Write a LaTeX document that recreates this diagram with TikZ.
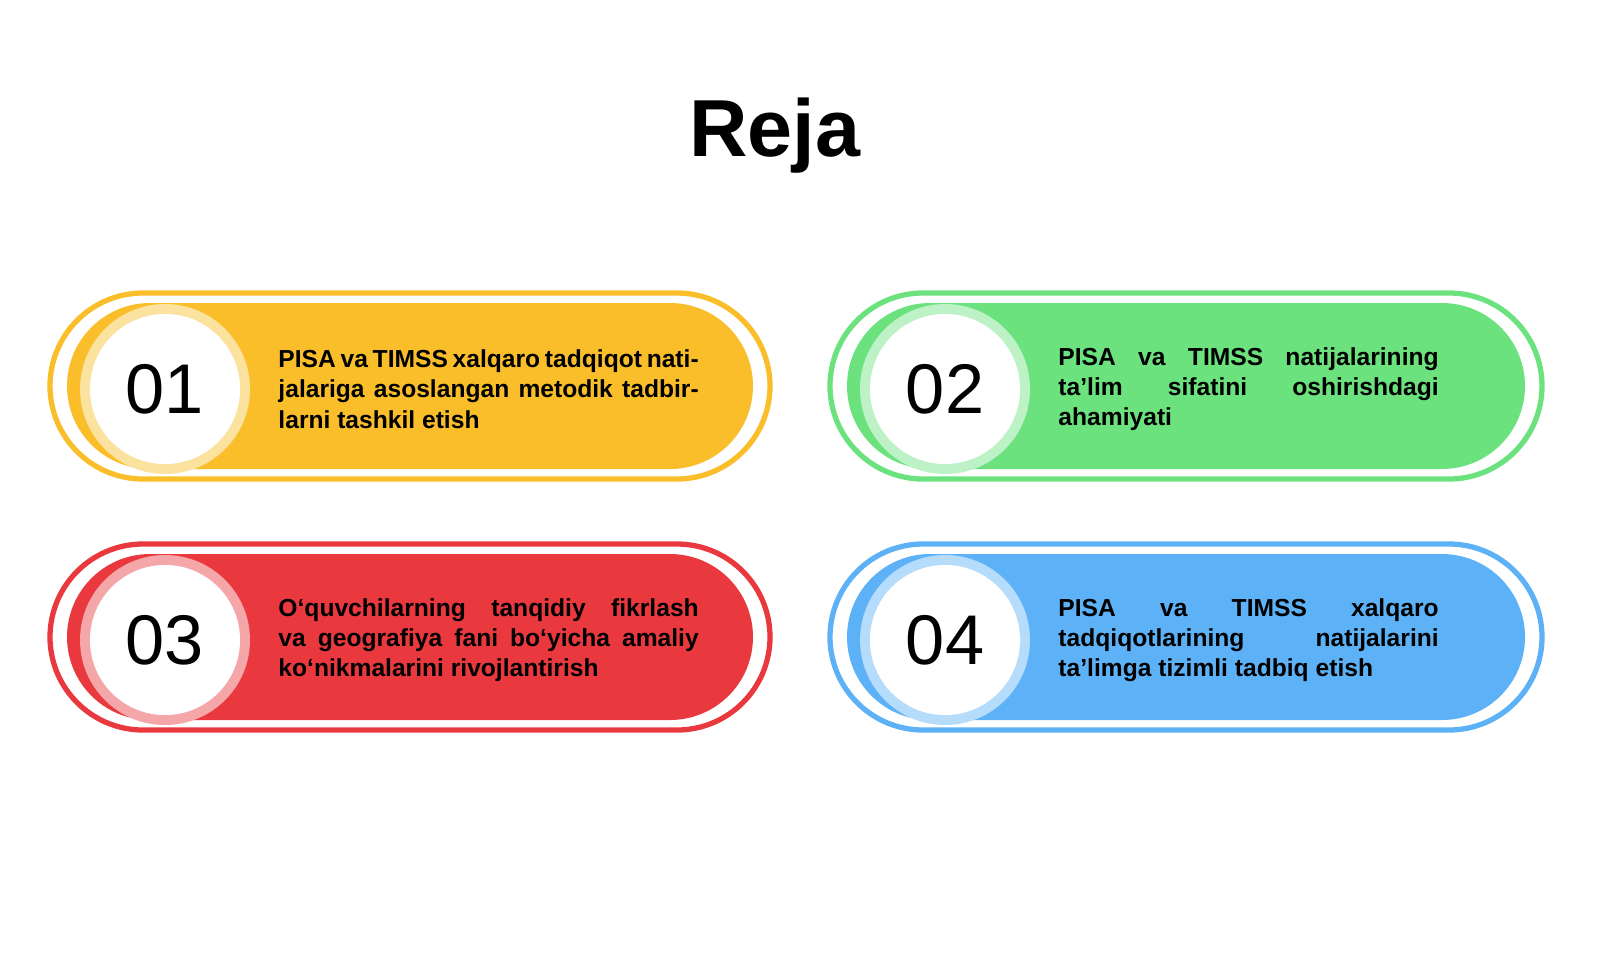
\documentclass[tikz,border=0pt]{standalone}
\usepackage{fontspec}
\setmainfont{Liberation Sans}
\usetikzlibrary{positioning}
\definecolor{cyel}{HTML}{F9BE2A}
\definecolor{cgrn}{HTML}{6BE27E}
\definecolor{cred}{HTML}{E9393F}
\definecolor{cblu}{HTML}{5DB1F6}
\newcommand{\rejapill}[7]{%
  % #1 x, #2 y, #3 colour, #4 width, #5 number, #6 text width, #7 text
  \draw[#3, line width=1.5pt, rounded corners=0.93cm] (#1,#2-93) rectangle ++(#4,186);
  \fill[#3, rounded corners=0.83cm] (#1+17,#2-83) rectangle ++(#4-34,166);
  \fill[#3!45!white] (#1+115,#2+3) circle (85);
  \node[circle, fill=white, minimum size=1.5cm, font=\fontsize{20}{24}\selectfont] (n#5) at (#1+115,#2+3) {#5};
  \node[right=0.37cm of n#5, text width=#6, align=justify, font=\bfseries\fontsize{7}{8.6}\selectfont, inner sep=0pt] (t#5) {\hyphenpenalty=10000 #7};
}
\begin{document}
\begin{tikzpicture}[x=0.01cm, y=-0.01cm]
  \useasboundingbox (0,0) rectangle (1600,960);
  \node[font=\bfseries\fontsize{23}{27}\selectfont] (title) at (775,136) {Reja};
  \rejapill{50}{386}{cyel}{720}{01}{4.2cm}{PISA va TIMSS xalqaro tadqiqot natijalariga asoslangan metodik tadbirlarni tashkil etish}
  \rejapill{830}{386}{cgrn}{712}{02}{3.8cm}{PISA va TIMSS natijalarining\linebreak ta’lim sifatini oshirishdagi\linebreak ahamiyati}
  \rejapill{50}{637}{cred}{720}{03}{4.2cm}{O‘quvchilarning tanqidiy fikrlash va geografiya fani bo‘yicha amaliy ko‘nikmalarini rivojlantirish}
  \rejapill{830}{637}{cblu}{712}{04}{3.8cm}{PISA va TIMSS xalqaro\linebreak tadqiqotlarining natijalarini\linebreak ta’limga tizimli tadbiq etish}
\end{tikzpicture}
\end{document}
